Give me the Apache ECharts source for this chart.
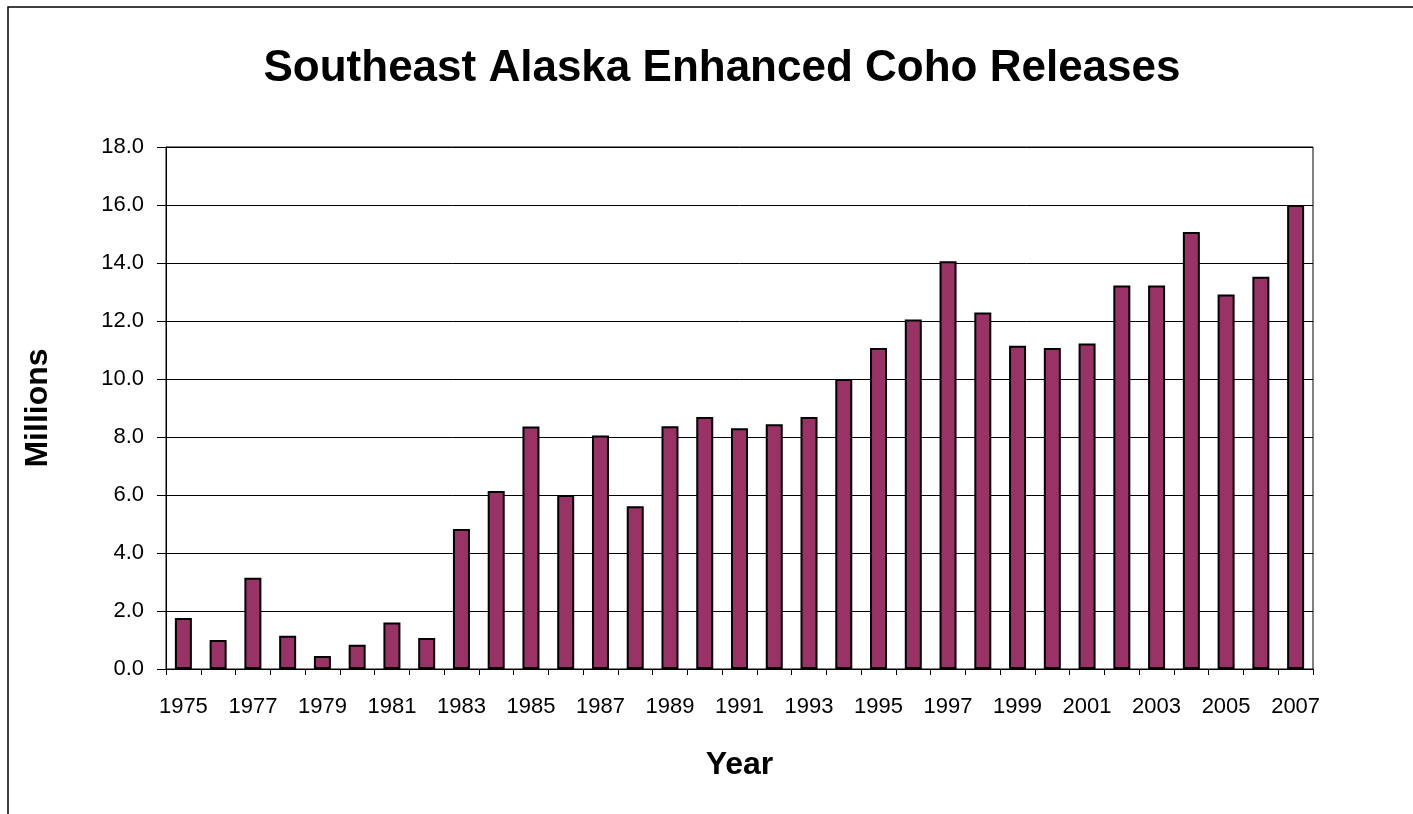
<!DOCTYPE html>
<html>
<head>
<meta charset="utf-8">
<title>Southeast Alaska Enhanced Coho Releases</title>
<script src="https://cdn.jsdelivr.net/npm/echarts@6/dist/echarts.min.js"></script>
<style>
  html, body { margin: 0; padding: 0; background: #ffffff; }
  #chart { width: 1413px; height: 814px; }
</style>
</head>
<body>
<div id="chart"></div>
<script>
// Release years
var years = ['1975','1976','1977','1978','1979','1980','1981','1982','1983','1984',
             '1985','1986','1987','1988','1989','1990','1991','1992','1993','1994',
             '1995','1996','1997','1998','1999','2000','2001','2002','2003','2004',
             '2005','2006','2007'];

// Enhanced coho released, millions of fish
var releases = [1.76, 1.00, 3.15, 1.15, 0.45, 0.84, 1.60, 1.07, 4.83, 6.14,
                8.36, 6.00, 8.05, 5.61, 8.37, 8.69, 8.30, 8.44, 8.69, 10.00,
                11.07, 12.05, 14.06, 12.29, 11.15, 11.07, 11.22, 13.22, 13.22, 15.07,
                12.91, 13.53, 16.00];

// Value axis range and step
var yMin = 0, yMax = 18, yStep = 2;

var FONT = '"Liberation Sans", Arial, sans-serif';

var chart = echarts.init(document.getElementById('chart'), null, { renderer: 'canvas' });

chart.setOption({
  backgroundColor: '#ffffff',
  animation: false,
  title: {
    text: 'Southeast Alaska Enhanced Coho Releases',
    left: 717,
    top: 42,
    textAlign: 'center',
    textStyle: { fontFamily: FONT, fontSize: 44, fontWeight: 'bold', color: '#000000' }
  },
  graphic: [{
    // chart frame (runs off the right and bottom of the page)
    type: 'rect',
    shape: { x: 8, y: 7, width: 1440, height: 860 },
    style: { fill: 'none', stroke: '#000000', lineWidth: 1.5 },
    silent: true
  }],
  grid: {
    left: 166, top: 147, right: 100, bottom: 145,
    show: true, borderColor: '#000000', borderWidth: 1, backgroundColor: 'transparent'
  },
  xAxis: {
    type: 'category',
    data: years,
    boundaryGap: true,
    name: 'Year',
    nameLocation: 'middle',
    nameGap: 80,
    nameTextStyle: { fontFamily: FONT, fontSize: 32, fontWeight: 'bold', color: '#000000' },
    axisLine: { show: true, lineStyle: { color: '#000000', width: 1 } },
    axisTick: { show: true, interval: 0, length: 6, lineStyle: { color: '#000000' } },
    axisLabel: { interval: 1, margin: 27, fontFamily: FONT, fontSize: 22, color: '#000000' },
    splitLine: { show: false }
  },
  yAxis: {
    type: 'value',
    min: yMin, max: yMax, interval: yStep,
    name: 'Millions',
    nameLocation: 'middle',
    nameGap: 112,
    nameRotate: 90,
    nameTextStyle: { fontFamily: FONT, fontSize: 32, fontWeight: 'bold', color: '#000000' },
    axisLine: { show: true, lineStyle: { color: '#000000', width: 1 } },
    axisTick: { show: true, length: 9, lineStyle: { color: '#000000' } },
    axisLabel: {
      margin: 22, fontFamily: FONT, fontSize: 22, color: '#000000',
      formatter: function (v) { return v.toFixed(1); }
    },
    splitLine: { show: true, lineStyle: { color: '#000000', width: 1 } }
  },
  series: [{
    type: 'bar',
    data: releases,
    barWidth: 17,
    itemStyle: { color: '#993366', borderColor: '#000000', borderWidth: 2 }
  }]
});
</script>
</body>
</html>
